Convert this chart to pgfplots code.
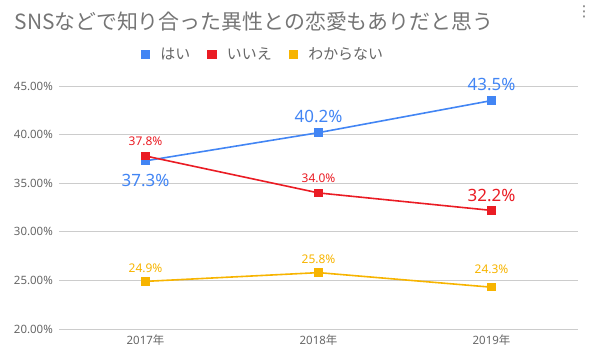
\documentclass[border=0pt]{standalone}
\usepackage{fontspec}
\setmainfont{Noto Sans}
\newfontfamily\jp{Noto Sans CJK JP}
\newfontfamily\dejavu{DejaVu Sans}
\usepackage{pgfplots}
\pgfplotsset{compat=1.18}
\definecolor{cblue}{HTML}{4285F4}
\definecolor{cred}{HTML}{EA1C24}
\definecolor{cyel}{HTML}{F7B400}
\definecolor{cgrid}{HTML}{CCCCCC}
\definecolor{ctext}{HTML}{666666}
\definecolor{ctitle}{HTML}{757575}
\pgfplotsset{
  lab/.style n args={3}{forget plot, draw=none, mark=none,
    nodes near coords={\pgfmathprintnumber[fixed,fixed zerofill,precision=1,assume math mode=true]{\pgfplotspointmeta}\%},
    every node near coord/.append style={anchor=center, inner sep=0pt, text=#1, yshift=#2, font=\fontsize{#3}{#3}\selectfont}},
  ser/.style={color=#1, line width=1.6bp, mark=square*, mark size=3.4bp, mark options={solid}},
}
\begin{document}
\begin{tikzpicture}
\path[use as bounding box] (0bp,0bp) rectangle (592bp,360bp);
\node[font=\jp\fontsize{21}{24}\selectfont, text=ctitle, inner sep=0pt] at (254bp,338bp) {SNSなどで知り合った異性との恋愛もありだと思う};
\node[font=\dejavu\fontsize{15}{18}\selectfont, text=ctitle, inner sep=0pt] at (584bp,348bp) {⋮};
\begin{axis}[
  at={(59bp,31bp)}, anchor=south west, scale only axis,
  width=519bp, height=243bp,
  xmin=-0.5, xmax=2.5, ymin=20, ymax=45,
  clip=false,
  xtick={0,1,2},
  xticklabels={2017{\jp 年},2018{\jp 年},2019{\jp 年}},
  ytick={20,25,30,35,40,45},
  yticklabel={\pgfmathprintnumber[fixed,fixed zerofill,precision=2,assume math mode=true]{\tick}\%},
  ymajorgrids, grid style={cgrid, line width=0.8bp},
  axis line style={draw=none}, tick style={draw=none},
  yticklabel style={inner sep=0pt, anchor=east, xshift=-6bp, text=ctext, font=\fontsize{11.5}{12}\selectfont},
  xticklabel style={inner sep=0pt, anchor=north, yshift=-6bp, text=ctext, font=\fontsize{11.5}{12}\selectfont},
  legend style={at={(0.391,1.13)}, anchor=center, draw=none, fill=none,
    font=\jp\fontsize{15}{17}\selectfont, text=ctext, inner sep=0pt,
    nodes={inner sep=0pt},
    /tikz/every even column/.append style={column sep=17bp}},
  legend columns=3,
  legend image code/.code={\fill[#1] (0bp,-4bp) rectangle (8bp,4bp); \path (18bp,0bp);},
]
\addplot[ser=cblue] coordinates {(0,37.3) (1,40.2) (2,43.5)};
\addlegendentry{はい}
\addplot[ser=cred] coordinates {(0,37.8) (1,34.0) (2,32.2)};
\addlegendentry{いいえ}
\addplot[ser=cyel] coordinates {(0,24.9) (1,25.8) (2,24.3)};
\addlegendentry{わからない}
% data labels
\addplot[lab={cblue}{16.5bp}{17}] coordinates {(1,40.2) (2,43.5)};
\addplot[lab={cblue}{-20bp}{17}] coordinates {(0,37.3)};
\addplot[lab={cred}{15bp}{12}] coordinates {(0,37.8) (1,34.0)};
\addplot[lab={cred}{15bp}{17}] coordinates {(2,32.2)};
\addplot[lab={cyel}{13.5bp}{12}] coordinates {(0,24.9) (1,25.8)};
\addplot[lab={cyel}{18bp}{12}] coordinates {(2,24.3)};
\end{axis}
\end{tikzpicture}
\end{document}
